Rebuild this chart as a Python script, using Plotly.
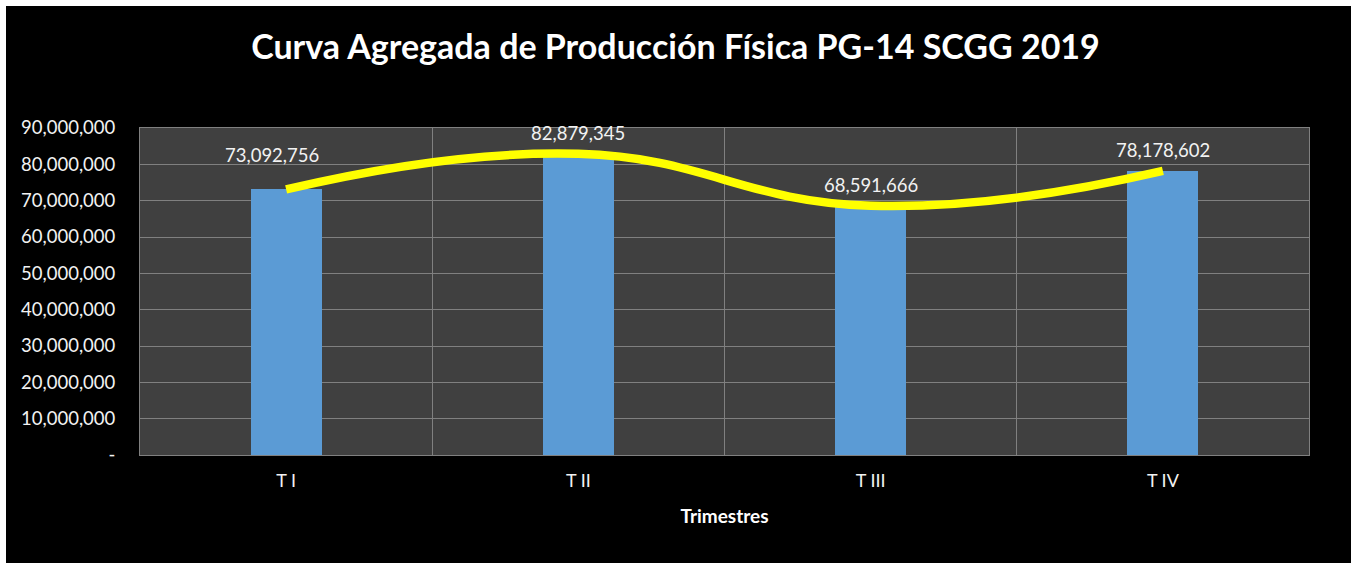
import plotly.graph_objects as go

categories = ["T I", "T II", "T III", "T IV"]
production = [73092756, 82879345, 68591666, 78178602]
y_tick_values = [0, 10000000, 20000000, 30000000, 40000000, 50000000,
                 60000000, 70000000, 80000000, 90000000]
y_tick_labels = ["-"] + [f"{v:,}" for v in y_tick_values[1:]]

FONT = "Lato"
W, H = 1351, 563
ML, MR, MT, MB = 140, 42, 128, 108
PW, PH = W - ML - MR, H - MT - MB
BORDER = 6

fig = go.Figure()
fig.add_trace(go.Bar(
    x=categories, y=production, width=0.243,
    marker=dict(color="#5b9bd5", line=dict(width=0)),
    showlegend=False, hoverinfo="x+y",
))
fig.add_trace(go.Scatter(
    x=categories, y=production, mode="lines",
    line=dict(color="#ffff00", width=8.5, shape="spline", smoothing=1.3),
    showlegend=False, hoverinfo="skip",
))

label_yshift = {0: 34}
label_xshift = {0: -14}
for i, (c, v) in enumerate(zip(categories, production)):
    fig.add_annotation(x=c, y=v, text=f"{v:,}", showarrow=False,
                       yshift=label_yshift.get(i, 21), xshift=label_xshift.get(i, 0),
                       font=dict(family=FONT, size=18.5, color="#f2f2f2"))

# white frame on the left and top edges, as in the reference picture
fig.add_shape(type="rect", xref="paper", yref="paper", layer="above",
              x0=-ML / PW - 0.05, x1=(BORDER - ML) / PW,
              y0=-MB / PH - 0.1, y1=1 + MT / PH + 0.1,
              fillcolor="#ffffff", line=dict(width=0))
fig.add_shape(type="rect", xref="paper", yref="paper", layer="above",
              x0=-ML / PW - 0.05, x1=1 + MR / PW + 0.05,
              y0=1 + (MT - BORDER) / PH, y1=1 + MT / PH + 0.1,
              fillcolor="#ffffff", line=dict(width=0))

fig.update_layout(
    width=W, height=H,
    margin=dict(l=ML, r=MR, t=MT, b=MB),
    paper_bgcolor="#000000", plot_bgcolor="#404040",
    title=dict(text="<b>Curva Agregada de Producción Física PG-14 SCGG 2019</b>",
               x=0.5, xanchor="center", y=1 - 47 / H, yanchor="middle",
               font=dict(family=FONT, size=34, color="#ffffff")),
    bargap=0,
    xaxis=dict(
        title=dict(text="<b>Trimestres</b>", font=dict(family=FONT, size=19, color="#ffffff"),
                   standoff=20),
        tickfont=dict(family=FONT, size=18, color="#f2f2f2"),
        tickson="boundaries", ticks="outside", ticklen=22, tickcolor="rgba(0,0,0,0)",
        ticklabelstandoff=9,
        showgrid=True, gridcolor="#808080", gridwidth=1,
        showline=True, linecolor="#808080", mirror=True, linewidth=1,
    ),
    yaxis=dict(
        range=[0, 90000000], tickvals=y_tick_values, ticktext=y_tick_labels,
        tickfont=dict(family=FONT, size=18.5, color="#f2f2f2"),
        showgrid=True, gridcolor="#808080", gridwidth=1, zeroline=False,
        showline=True, linecolor="#808080", mirror=True, linewidth=1,
        ticks="outside", ticklen=20, tickcolor="rgba(0,0,0,0)",
    ),
)

fig.write_html(
    "out.html",
    config={"displayModeBar": False},
    post_script="document.body.style.margin='0';document.body.style.overflow='hidden';",
)
